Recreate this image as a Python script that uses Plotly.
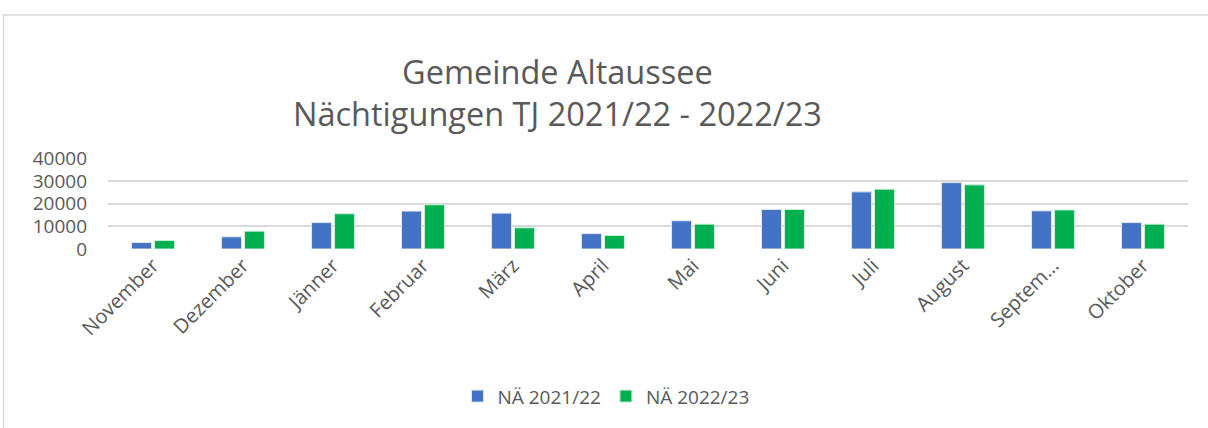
import plotly.graph_objects as go

months = ["November", "Dezember", "Jänner", "Februar", "März", "April", "Mai",
          "Juni", "Juli", "August", "Septem…", "Oktober"]
na_2021_22 = [2900, 5400, 11700, 16800, 15900, 6800, 12500, 17500, 25300, 29400, 16900, 11700]
na_2022_23 = [3800, 7900, 15600, 19600, 9400, 6000, 11000, 17500, 26500, 28400, 17300, 11000]
y_ticks = [0, 10000, 20000, 30000, 40000]

W, H = 1208, 428
L, R = 108, 1188
B = 249.3
T40 = 158.7
YMAX = 40300
T = B - (B - T40) * YMAX / 40000

def px(x):
    return (x - L) / (R - L)

def py(y):
    return (B - y) / (B - T)

FONT = "Open Sans, Lato, sans-serif"
GRAY = "#595959"

fig = go.Figure()
fig.add_trace(go.Bar(x=months, y=na_2021_22, name="NÄ 2021/22",
                     marker=dict(color="#4472C4", line=dict(color="#DCE6F5", width=1))))
fig.add_trace(go.Bar(x=months, y=na_2022_23, name="NÄ 2022/23",
                     marker=dict(color="#00B050", line=dict(color="#CCF0DA", width=1))))

fig.update_layout(
    width=W, height=H,
    margin=dict(l=L, r=W - R, t=T, b=H - B, autoexpand=False),
    paper_bgcolor="white", plot_bgcolor="white",
    barmode="group", bargap=0.49, bargroupgap=0.13,
    font=dict(family=FONT, color=GRAY, size=18),
    showlegend=True,
    legend=dict(orientation="h", x=px(606), xanchor="center", y=py(397), yanchor="middle",
                font=dict(size=19, color=GRAY), itemwidth=30, traceorder="normal"),
    xaxis=dict(tickangle=-45, showgrid=False, showline=False, ticks="",
               tickfont=dict(size=20, color=GRAY)),
    yaxis=dict(range=[0, YMAX], tickvals=y_ticks, ticktext=[str(v) for v in y_ticks],
               showgrid=True, gridcolor="#D9D9D9", gridwidth=1.5, zeroline=False,
               showline=False, ticks="", tickfont=dict(size=19, color=GRAY), ticklabelstandoff=20),
    annotations=[
        dict(text="Gemeinde Altaussee<br>Nächtigungen TJ 2021/22 - 2022/23",
             x=px(557), y=py(92), xref="paper", yref="paper", showarrow=False,
             xanchor="center", yanchor="middle", align="center",
             font=dict(size=32.5, color=GRAY, family=FONT)),
    ],
    shapes=[
        dict(type="rect", xref="paper", yref="paper",
             x0=px(3.5), x1=px(1250), y0=py(470), y1=py(14.5),
             line=dict(color="#D9D9D9", width=1.5), fillcolor="rgba(0,0,0,0)", layer="below"),
    ],
)

fig.write_html("out.html", config={"displayModeBar": False},
               post_script="document.body.style.margin='0';document.body.style.overflow='hidden';")
